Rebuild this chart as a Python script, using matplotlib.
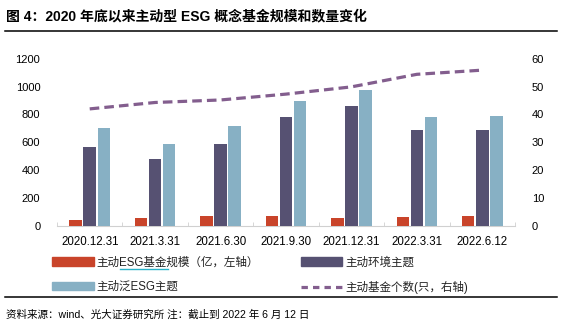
import matplotlib
matplotlib.use("Agg")
import matplotlib.pyplot as plt
from matplotlib.patches import Patch
from matplotlib.lines import Line2D
import numpy as np

plt.rcParams['font.family'] = ['Liberation Sans', 'Noto Sans CJK SC']

# data
dates = ['2020.12.31', '2021.3.31', '2021.6.30', '2021.9.30',
         '2021.12.31', '2022.3.31', '2022.6.12']
esg_scale = [41, 57, 74, 70, 57, 65, 70]          # 主动ESG基金规模（亿）
env_theme = [570, 479, 591, 785, 860, 685, 685]    # 主动环境主题
broad_esg = [702, 591, 718, 898, 979, 781, 788]    # 主动泛ESG主题
fund_count = [42, 44.3, 45.2, 47.3, 49.9, 54.4, 55.9]  # 主动基金个数（只）

c_red = '#C9442A'
c_dark = '#565172'
c_light = '#87B0C4'
c_line = '#835E8E'
grey = '#D0D0D0'

fig = plt.figure(figsize=(5.64, 3.29), dpi=100)
ax = fig.add_axes([57/564, 1-226/329, (515-57)/564, (226-58.7)/329])
ax2 = ax.twinx()

x = np.arange(len(dates))
w = 0.19
off = 0.215
ax.bar(x - off, esg_scale, w, color=c_red, zorder=3)
ax.bar(x, env_theme, w, color=c_dark, zorder=3)
ax.bar(x + off, broad_esg, w, color=c_light, zorder=3)
ax2.plot(x, fund_count, color=c_line, lw=2.3, dashes=(3, 1.6))

ax.set_xlim(-0.5, len(dates) - 0.5)
ax.set_ylim(0, 1200)
ax.set_yticks(range(0, 1201, 200))
ax2.set_ylim(0, 60)
ax2.set_yticks(range(0, 61, 10))

ax.set_xticks(x)
ax.set_xticklabels(dates, fontsize=8.3)
ax.set_xticks(np.arange(-0.5, len(dates)), minor=True)
ax.tick_params(axis='x', which='major', length=0, pad=7)
ax.tick_params(axis='x', which='minor', length=3, direction='in', color=grey)
ax.tick_params(axis='y', length=0, labelsize=8, pad=12)
ax2.tick_params(axis='y', length=0, labelsize=8, pad=12)

for a in (ax, ax2):
    for s in ('top', 'left', 'right'):
        a.spines[s].set_visible(False)
    a.spines['bottom'].set_color(grey)
ax2.spines['bottom'].set_visible(False)

# title and rules
fig.text(6.5/564, 1-16/329, '图 4：2020 年底以来主动型 ESG 概念基金规模和数量变化',
         fontsize=10, fontweight='bold', va='center', ha='left')
fig.add_artist(Line2D([5/564, 557/564], [1-30.5/329, 1-30.5/329], color='black', lw=1.1))
fig.add_artist(Line2D([5/564, 557/564], [1-297/329, 1-297/329], color='black', lw=1.1))

# legend
handles = [Patch(color=c_red), Patch(color=c_light), Patch(color=c_dark),
           Line2D([], [], color=c_line, lw=2.3, dashes=(2, 1.6))]
labels = ['主动ESG基金规模（亿，左轴）', '主动泛ESG主题', '主动环境主题', '主动基金个数(只，右轴)']
fig.legend(handles, labels, ncol=2, loc='upper left', bbox_to_anchor=(42/564, 1-246/329),
           frameon=False, fontsize=8.3, handlelength=3.6, handleheight=0.8,
           handletextpad=0.25, columnspacing=3.6, labelspacing=1.1, labelcolor='#222222')
# proofing underline under "ESG基金"
fig.add_artist(Line2D([120/564, 168/564], [1-269/329, 1-269/329], color='#2AB3C9', lw=1.0))

fig.text(6.5/564, 1-315/329, '资料来源：wind、光大证券研究所 注：截止到 2022 年 6 月 12 日',
         fontsize=7.6, va='center', ha='left')

fig.savefig('out.png', dpi=100)
